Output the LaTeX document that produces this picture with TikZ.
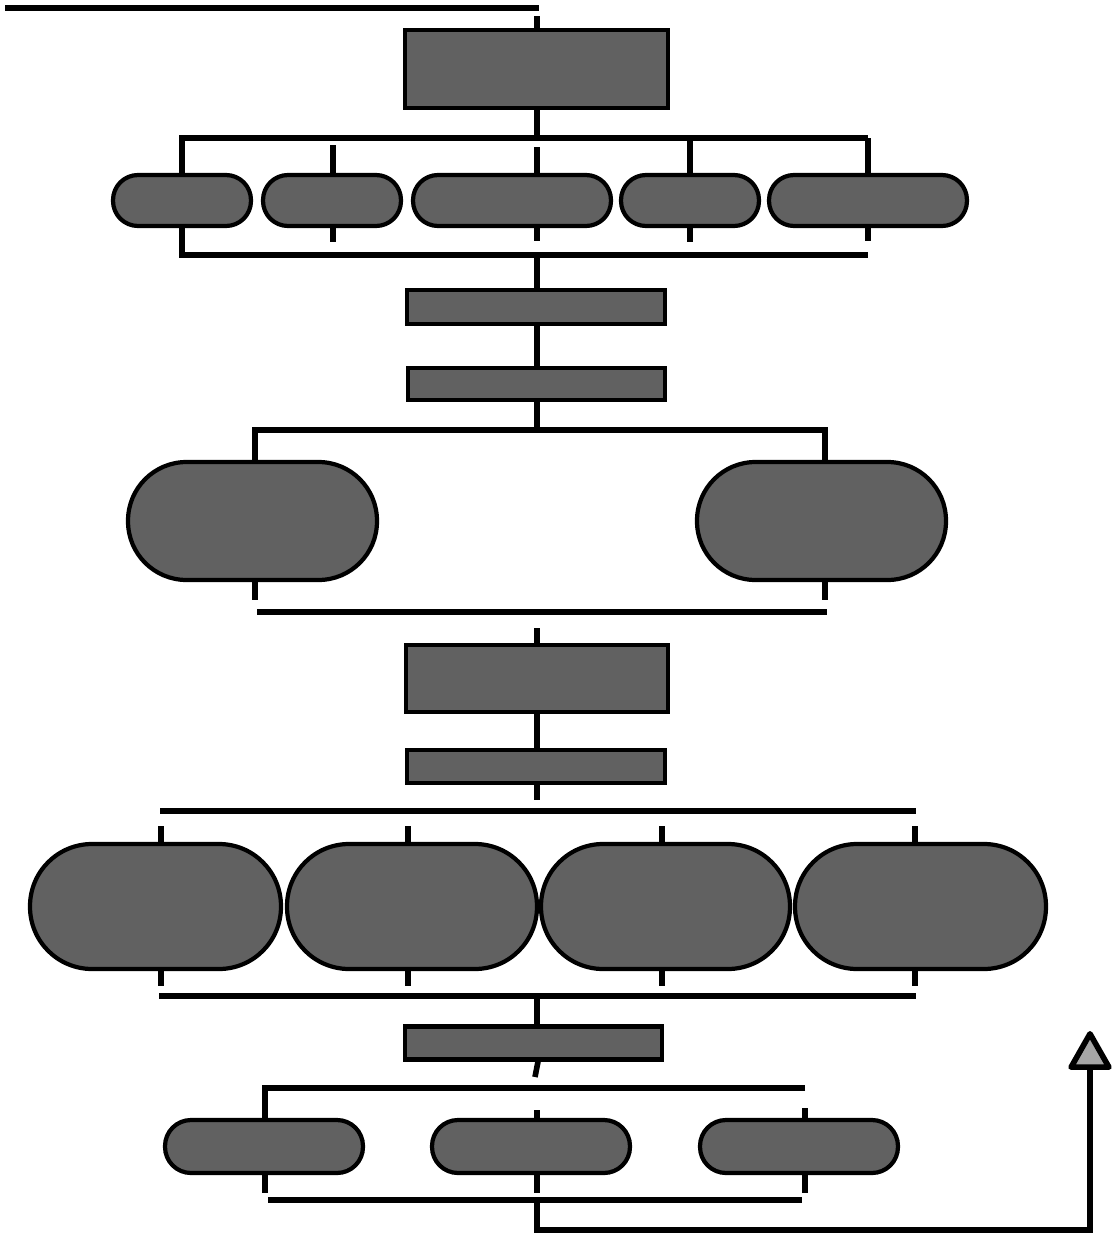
\documentclass[tikz,border=0pt]{standalone}
\usetikzlibrary{arrows.meta,backgrounds}
\definecolor{boxfill}{gray}{0.38}
\begin{document}
\begin{tikzpicture}[x=0.02cm,y=-0.02cm,
  ln/.style={line width=3.2pt},
  sq/.style={draw, line width=2.4pt, fill=boxfill, inner sep=0pt, rectangle},
  pill/.style={draw, line width=2.4pt, fill=boxfill, inner sep=0pt, rectangle, rounded corners=#1},
]
% ---- boxes ----
\node[sq, minimum width=5.26cm, minimum height=1.56cm] (A) at (536.5,69) {};
\node[pill=0.5cm, minimum width=2.76cm, minimum height=1.02cm] (r1a) at (182,200.5) {};
\node[pill=0.5cm, minimum width=2.76cm, minimum height=1.02cm] (r1b) at (332,200.5) {};
\node[pill=0.5cm, minimum width=3.96cm, minimum height=1.02cm] (r1c) at (512,200.5) {};
\node[pill=0.5cm, minimum width=2.76cm, minimum height=1.02cm] (r1d) at (690,200.5) {};
\node[pill=0.5cm, minimum width=3.96cm, minimum height=1.02cm] (r1e) at (868,200.5) {};
\node[sq, minimum width=5.16cm, minimum height=0.68cm] (B) at (536,307) {};
\node[sq, minimum width=5.14cm, minimum height=0.64cm] (C) at (536.5,384) {};
\node[pill=1.17cm, minimum width=4.98cm, minimum height=2.36cm] (r2a) at (252.5,521) {};
\node[pill=1.17cm, minimum width=4.98cm, minimum height=2.36cm] (r2b) at (821.5,521) {};
\node[sq, minimum width=5.24cm, minimum height=1.34cm] (D) at (537,678.5) {};
\node[sq, minimum width=5.16cm, minimum height=0.66cm] (E) at (536,766.5) {};
\node[pill=1.24cm, minimum width=5.02cm, minimum height=2.5cm] (r4a) at (155.5,906.5) {};
\node[pill=1.24cm, minimum width=5.0cm, minimum height=2.5cm] (r4b) at (412,906.5) {};
\node[pill=1.24cm, minimum width=4.98cm, minimum height=2.5cm] (r4c) at (665.5,906.5) {};
\node[pill=1.24cm, minimum width=5.02cm, minimum height=2.5cm] (r4d) at (920.5,906.5) {};
\node[sq, minimum width=5.14cm, minimum height=0.66cm] (F) at (533.5,1043) {};
\node[pill=0.52cm, minimum width=3.96cm, minimum height=1.06cm] (r5a) at (264,1146.5) {};
\node[pill=0.52cm, minimum width=3.96cm, minimum height=1.06cm] (r5b) at (531,1146.5) {};
\node[pill=0.52cm, minimum width=3.96cm, minimum height=1.06cm] (r5c) at (799,1146.5) {};

\begin{scope}[on background layer]
\fill[white] (0,0) rectangle (1109,1238);
% top
\draw[ln] (5,8) -- (539,8);
\draw[ln] (537,16) -- (537,0 |- A.north);
\draw[ln] (537,0 |- A.south) -- (537,138);
% bus 1
\draw[ln] (868,138) -- (182,138) -- (182,255) -- (868,255);
\draw[ln] (333,145) -- (333,242);
\draw[ln] (537,147) -- (537,241);
\draw[ln] (690,138) -- (690,242);
\draw[ln] (868,138) -- (868,241);
\draw[ln] (537,255) -- (537,0 |- B.north);
\draw[ln] (537,0 |- B.south) -- (537,0 |- C.north);
\draw[ln] (537,0 |- C.south) -- (537,430);
% bus 2
\draw[ln] (255,0 |- r2a.north) -- (255,430) -- (825,430) -- (825,0 |- r2b.north);
\draw[ln] (255,0 |- r2a.south) -- (255,600);
\draw[ln] (825,0 |- r2b.south) -- (825,600);
\draw[ln] (257,612) -- (827,612);
\draw[ln] (537,628) -- (537,0 |- D.north);
\draw[ln] (537,0 |- D.south) -- (537,0 |- E.north);
\draw[ln] (537,0 |- E.south) -- (537,800);
% bus 3
\draw[ln] (160,811) -- (916,811);
\foreach \x in {161,408,662,915}{
  \draw[ln] (\x,826) -- (\x,846);
  \draw[ln] (\x,968) -- (\x,986);
}
\draw[ln] (159,996) -- (916,996);
\draw[ln] (537,996) -- (537,0 |- F.north);
\draw[ln] (538,0 |- F.south) -- (535,1077);
% bus 5
\draw[ln] (805,1088) -- (265,1088) -- (265,1193);
\draw[ln] (537,1110) -- (537,1193);
\draw[ln] (805,1108) -- (805,1193);
\draw[ln] (268,1200) -- (802,1200);
\coordinate (tip) at (1090,1031);
\draw[ln, line join=miter, -{Triangle[length=0.84cm,width=0.92cm,fill=gray!70,round]}] (537,1200) -- (537,1230) -- (1090,1230) -- (tip);
\end{scope}
\end{tikzpicture}
\end{document}
